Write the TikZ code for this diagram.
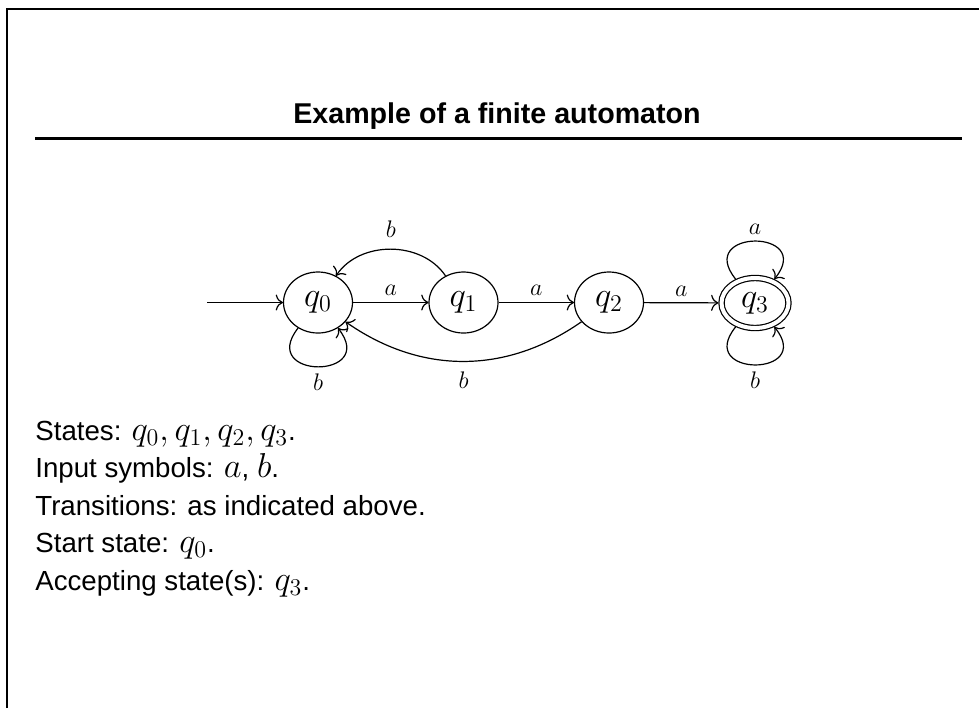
\documentclass[tikz,border=0pt]{standalone}
\usepackage[no-math]{fontspec}
\setmainfont{Liberation Sans}[Scale=0.8]
\usetikzlibrary{arrows.meta,shapes.geometric}
\tikzset{
  stnode/.style={ellipse, draw, line width=0.6pt, minimum width=34.5pt, minimum height=30.5pt,
    inner sep=0pt, font=\fontsize{17.28}{20}\selectfont},
  acceptnode/.style={stnode, double, double distance=2pt, minimum width=33.5pt,
    minimum height=25pt, outer sep=1.6pt},
  edgelab/.style={font=\fontsize{12}{14}\selectfont, inner sep=3pt},
  trans/.style={-{To[length=3.6pt,width=8pt]}, line width=0.6pt},
  bodytext/.style={anchor=base west, inner sep=0pt, font=\fontsize{17.28}{20}\selectfont},
  titletext/.style={anchor=base, inner sep=0pt, font=\fontsize{17.9}{20}\selectfont\bfseries},
}
\begin{document}
\begin{tikzpicture}[x=0.5pt,y=0.5pt]
\useasboundingbox (0,0) rectangle (979,-708);
% frame and title
\draw[line width=1pt] (6.5,-708) -- (6.5,-8.5) -- (979,-8.5);
\node[titletext] (title) at (497,-123) {Example of a finite automaton};
\draw[line width=1.2pt] (35,-138.5) -- (962,-138.5);
% states
\node[stnode] (q0) at (318,-302.5) {$q_0$};
\node[stnode] (q1) at (463.5,-302.5) {$q_1$};
\node[stnode] (q2) at (609,-302.5) {$q_2$};
\node[acceptnode] (q3) at (755,-303) {$q_3$};
\coordinate (start) at (207,-302.5);
% transitions
\draw[trans] (start) -- (q0);
\draw[trans] (q0) -- node[edgelab, above] (la1) {$a$} (q1);
\draw[trans] (q1) -- node[edgelab, above] (la2) {$a$} (q2);
\draw[trans] (q2) -- node[edgelab, above] (la3) {$a$} (q3);
\draw[trans] (q1) to[bend right=56] node[edgelab, above=2.5pt] (lb1) {$b$} (q0);
\draw[trans] (q2) to[bend left=35] node[edgelab, below=2pt] (lb2) {$b$} (q0);
\draw[trans] (q0) to[out=-128,in=-52,looseness=4.2] node[edgelab, below] (lb0) {$b$} (q0);
\draw[trans] (q3) to[out=129,in=51,looseness=4.3] node[edgelab, above] (la4) {$a$} (q3);
\draw[trans] (q3) to[out=-129,in=-51,looseness=4.3] node[edgelab, below] (lb3) {$b$} (q3);
% description
\node[bodytext] (t1) at (35,-440) {States: $q_0, q_1, q_2, q_3$.};
\node[bodytext] (t2) at (35,-477.5) {Input symbols: $a$, $b$.};
\node[bodytext] (t3) at (35,-515) {Transitions: as indicated above.};
\node[bodytext] (t4) at (35,-552.5) {Start state: $q_0$.};
\node[bodytext] (t5) at (35,-590) {Accepting state(s): $q_3$.};
\end{tikzpicture}
\end{document}
